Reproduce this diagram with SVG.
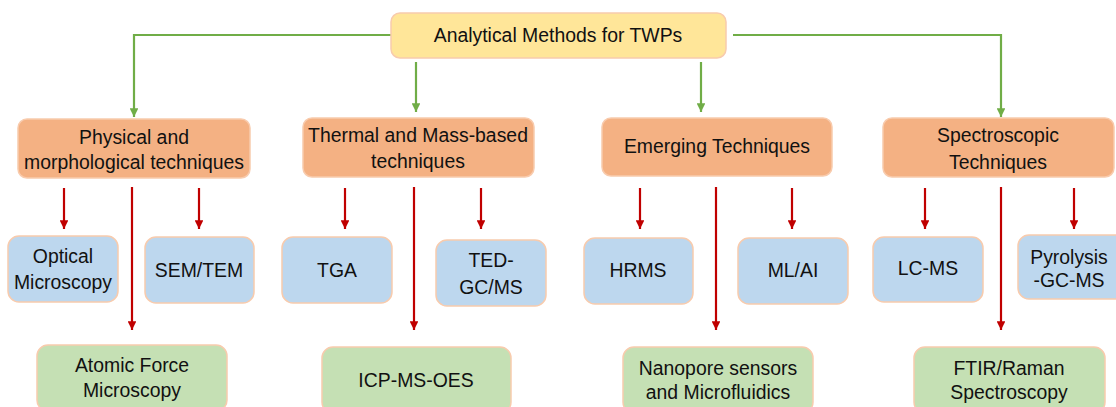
<svg xmlns="http://www.w3.org/2000/svg" width="1116" height="407" viewBox="0 0 1116 407">
<defs>
<marker id="ag" viewBox="0 0 10 10" refX="10" refY="5" markerWidth="4" markerHeight="4" orient="auto" markerUnits="strokeWidth"><path d="M0,0 L10,5 L0,10 z" fill="#70AD47"/></marker>
<marker id="ar" viewBox="0 0 10 10" refX="10" refY="5" markerWidth="4" markerHeight="4" orient="auto" markerUnits="strokeWidth"><path d="M0,0 L10,5 L0,10 z" fill="#C00000"/></marker>
<style>
text{font-family:"Liberation Sans",Arial,sans-serif;font-size:19.4px;fill:#111;text-anchor:middle}
.root{fill:#FFE699;stroke:#F8CBAD;stroke-width:1.5}
.cat{fill:#F4B183;stroke:#F8CBAD;stroke-width:1.5}
.blue{fill:#BDD7EE;stroke:#F8CBAD;stroke-width:1.5}
.grn{fill:#C5E0B4;stroke:#F8CBAD;stroke-width:1.5}
.g{fill:none;stroke:#70AD47;stroke-width:2.2;marker-end:url(#ag)}
.r{fill:none;stroke:#C00000;stroke-width:2.2;marker-end:url(#ar)}
</style>
</defs>
<rect width="1116" height="407" fill="#ffffff"/>
<g id="connectors">
<path class="g" d="M391,35 H134 V117"/>
<path class="g" d="M416,62 V112"/>
<path class="g" d="M701,62 V112"/>
<path class="g" d="M733,35 H1001 V117"/>
<path class="r" d="M64,188 V229"/>
<path class="r" d="M132,187 V330"/>
<path class="r" d="M199,188 V229"/>
<path class="r" d="M345,188 V229"/>
<path class="r" d="M414,187 V330"/>
<path class="r" d="M481,188 V229"/>
<path class="r" d="M640,188 V229"/>
<path class="r" d="M716,187 V330"/>
<path class="r" d="M792,188 V229"/>
<path class="r" d="M925,188 V229"/>
<path class="r" d="M1001,187 V330"/>
<path class="r" d="M1074,188 V229"/>
</g>
<g id="root"><rect class="root" x="391" y="13" width="335" height="45" rx="9"/><text x="558" y="42">Analytical Methods for TWPs</text></g>
<g id="physical"><rect class="cat" x="18" y="119" width="232" height="59" rx="9"/><text x="134" y="144">Physical and</text><text x="134" y="169">morphological techniques</text></g>
<g id="thermal"><rect class="cat" x="303" y="118" width="231" height="59" rx="9"/><text x="418" y="142">Thermal and Mass-based</text><text x="418" y="168">techniques</text></g>
<g id="emerging"><rect class="cat" x="602" y="118" width="230" height="58" rx="9"/><text x="717" y="153">Emerging Techniques</text></g>
<g id="spectroscopic"><rect class="cat" x="883" y="118" width="231" height="59" rx="9"/><text x="998" y="142">Spectroscopic</text><text x="998" y="169">Techniques</text></g>
<g id="optical"><rect class="blue" x="8" y="236" width="110" height="66" rx="11"/><text x="63" y="263">Optical</text><text x="63" y="289">Microscopy</text></g>
<g id="semtem"><rect class="blue" x="145" y="237" width="109" height="66" rx="11"/><text x="199" y="277">SEM/TEM</text></g>
<g id="tga"><rect class="blue" x="282" y="237" width="110" height="66" rx="11"/><text x="337" y="277">TGA</text></g>
<g id="ted"><rect class="blue" x="436" y="240" width="110" height="66" rx="11"/><text x="491" y="267">TED-</text><text x="491" y="294">GC/MS</text></g>
<g id="hrms"><rect class="blue" x="584" y="238" width="109" height="66" rx="11"/><text x="638" y="277">HRMS</text></g>
<g id="mlai"><rect class="blue" x="738" y="238" width="110" height="66" rx="11"/><text x="793" y="277">ML/AI</text></g>
<g id="lcms"><rect class="blue" x="873" y="237" width="110" height="65" rx="11"/><text x="928" y="275">LC-MS</text></g>
<g id="pyrolysis"><rect class="blue" x="1018" y="235" width="110" height="64" rx="11"/><text x="1069" y="264">Pyrolysis</text><text x="1069" y="287">-GC-MS</text></g>
<g id="afm"><rect class="grn" x="37" y="345" width="190" height="66" rx="11"/><text x="132" y="372">Atomic Force</text><text x="132" y="397">Microscopy</text></g>
<g id="icp"><rect class="grn" x="322" y="347" width="189" height="66" rx="11"/><text x="416" y="387">ICP-MS-OES</text></g>
<g id="nanopore"><rect class="grn" x="623" y="347" width="190" height="66" rx="11"/><text x="718" y="375">Nanopore sensors</text><text x="718" y="399">and Microfluidics</text></g>
<g id="ftir"><rect class="grn" x="914" y="347" width="191" height="66" rx="11"/><text x="1009" y="375">FTIR/Raman</text><text x="1009" y="399">Spectroscopy</text></g>
</svg>
